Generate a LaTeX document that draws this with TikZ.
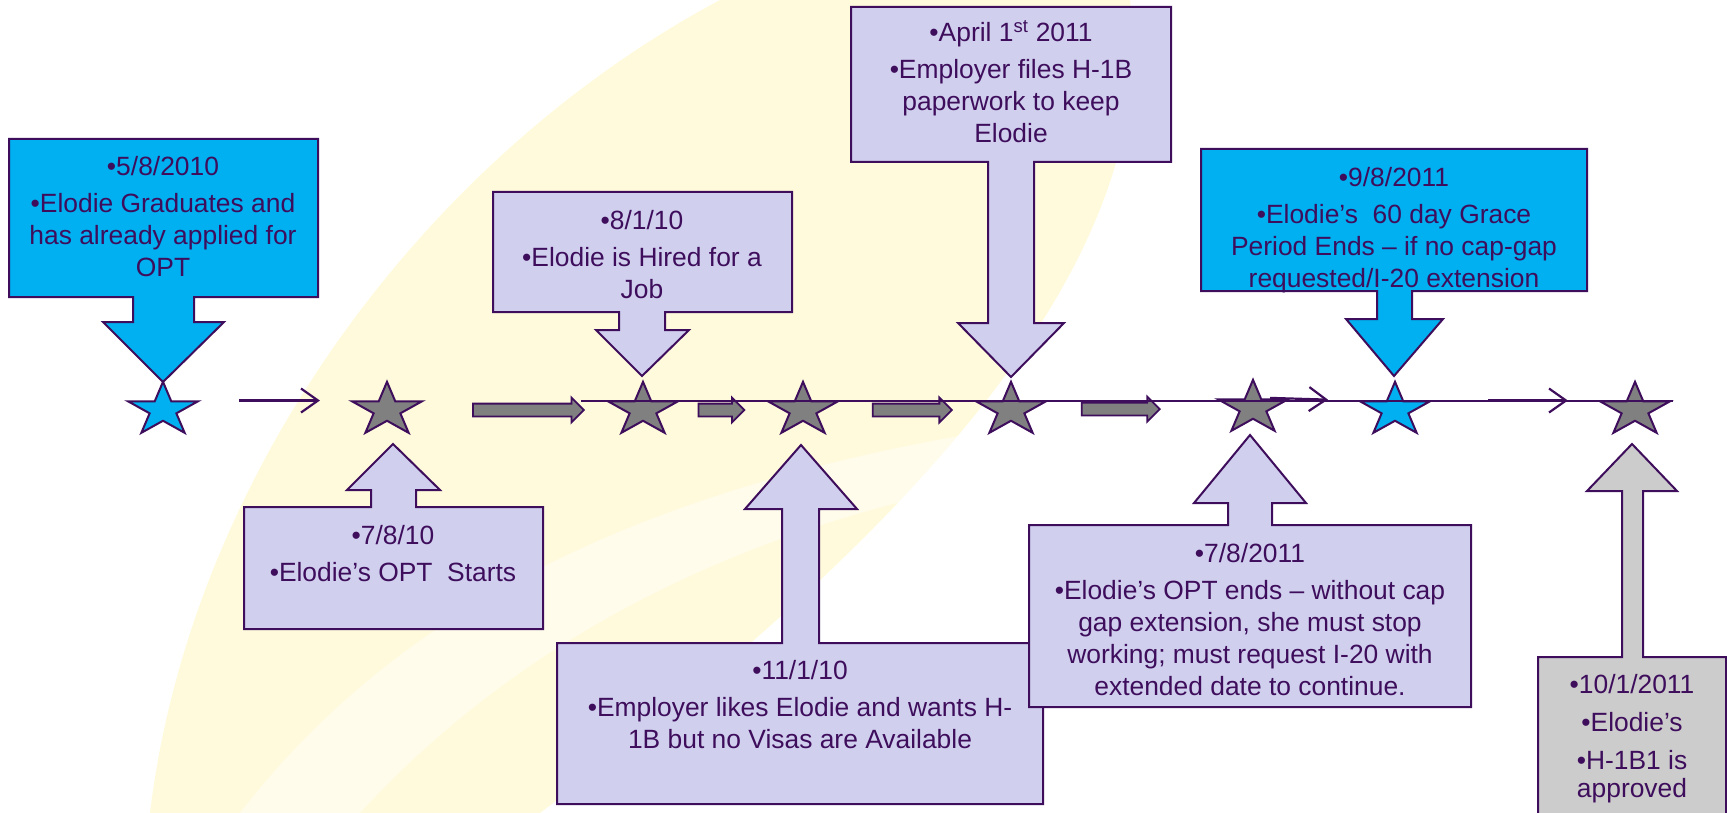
\documentclass[tikz,border=0pt]{standalone}
\usepackage{fontspec}
\setmainfont{Liberation Sans}
\usetikzlibrary{shapes.geometric,shapes.arrows,arrows.meta,calc}

\definecolor{ink}{RGB}{62,14,92}
\definecolor{skyfill}{RGB}{0,176,240}
\definecolor{lavfill}{RGB}{208,208,238}
\definecolor{starfill}{RGB}{128,128,128}
\definecolor{greyfill}{RGB}{204,204,204}
\definecolor{swoosh}{RGB}{255,250,220}

\tikzset{
  callout/.style={draw=ink, line width=2pt, line join=miter},
  txt/.style={text=ink, font=\fontsize{26.4}{32}\selectfont, align=center, inner sep=0pt, anchor=north},
  event/.style={star, star points=5, star point ratio=2.618, minimum size=73.6pt, inner sep=0pt,
    yscale=0.766, draw=ink, line width=2pt, fill=starfill},
  linkarrow/.style={draw=ink, line width=2.2pt, -{Straight Barb[length=17pt,width=24pt]}},
  tline/.style={draw=ink, line width=2pt},
  blockarrow/.style={single arrow, single arrow head extend=6pt, inner xsep=0pt, inner ysep=5.5pt,
    draw=ink, line width=1.8pt, fill=starfill}
}

\begin{document}
\begin{tikzpicture}[x=1pt, y=-1pt]

  \clip (0,0) rectangle (1727,813);

  % background swoosh
  \fill[swoosh] (150,813) .. controls (190,480) and (420,160) .. (720,0) -- (1130,0)
    .. controls (1170,300) and (820,600) .. (540,813) -- cycle;
  \fill[white, opacity=0.45] (240,813) .. controls (420,580) and (700,470) .. (1060,420)
    -- (1060,470) .. controls (720,520) and (500,660) .. (360,813) -- cycle;

  % callouts above the line
  \draw[callout, fill=skyfill] (9,139) -- (318,139) -- (318,297) -- (194,297) -- (194,322) -- (224,322)
    -- (163,382) -- (103,322) -- (133,322) -- (133,297) -- (9,297) -- cycle;
  \draw[callout, fill=lavfill] (493,192) -- (792,192) -- (792,312) -- (665,312) -- (665,330) -- (689,330)
    -- (642,376) -- (596,330) -- (619,330) -- (619,312) -- (493,312) -- cycle;
  \draw[callout, fill=lavfill] (851,7) -- (1171,7) -- (1171,162) -- (1034,162) -- (1034,323) -- (1064,323)
    -- (1011,377) -- (958,323) -- (988,323) -- (988,162) -- (851,162) -- cycle;
  \draw[callout, fill=skyfill] (1201,149) -- (1587,149) -- (1587,291) -- (1412,291) -- (1412,319) -- (1443,319)
    -- (1394,376) -- (1346,319) -- (1377,319) -- (1377,291) -- (1201,291) -- cycle;

  % callouts below the line
  \draw[callout, fill=lavfill] (244,507) -- (371,507) -- (371,490) -- (347,490) -- (393,444) -- (440,490)
    -- (416,490) -- (416,507) -- (543,507) -- (543,629) -- (244,629) -- cycle;
  \draw[callout, fill=lavfill] (557,643) -- (782,643) -- (782,509) -- (745,509) -- (801,445) -- (857,509)
    -- (819,509) -- (819,643) -- (1043,643) -- (1043,804) -- (557,804) -- cycle;
  \draw[callout, fill=lavfill] (1029,525) -- (1228,525) -- (1228,503) -- (1194,503) -- (1250,435) -- (1306,503)
    -- (1272,503) -- (1272,525) -- (1471,525) -- (1471,707) -- (1029,707) -- cycle;
  \draw[callout, fill=greyfill] (1538,657) -- (1622,657) -- (1622,491) -- (1587,491) -- (1632,444) -- (1677,491)
    -- (1643,491) -- (1643,657) -- (1726,657) -- (1726,830) -- (1538,830) -- cycle;

  % texts
  \node[txt] (t1) at (163,156) {•5/8/2010\\[5pt]•Elodie Graduates and\\has already applied for\\OPT};
  \node[txt] (t2) at (393,525) {•7/8/10\\[5pt]•Elodie’s OPT~ Starts};
  \node[txt] (t3) at (642,210) {•8/1/10\\[5pt]•Elodie is Hired for a\\Job};
  \node[txt] (t4) at (800,660) {•11/1/10\\[5pt]•Employer likes Elodie and wants H-\\1B but no Visas are Available};
  \node[txt] (t5) at (1011,20) {•April 1\textsuperscript{st} 2011\\[5pt]•Employer files H-1B\\paperwork to keep\\Elodie};
  \node[txt] (t6) at (1394,167) {•9/8/2011\\[5pt]•Elodie’s~ 60 day Grace\\Period Ends – if no cap-gap\\requested/I-20 extension};
  \node[txt] (t7) at (1250,543) {•7/8/2011\\[5pt]•Elodie’s OPT ends – without cap\\gap extension, she must stop\\working; must request I-20 with\\extended date to continue.};
  \node[txt] (t8) at (1632,674) {•10/1/2011\\[6pt]•Elodie’s\\[6pt]•H-1B1 is\\[-4pt]approved};

  % stars
  \node[event, fill=skyfill] (s1) at (163,410) {};
  \node[event] (s2) at (387,410) {};
  \node[event] (s3) at (643,410) {};
  \node[event] (s4) at (803,410) {};
  \node[event] (s5) at (1011,410) {};
  \node[event] (s6) at (1253,408) {};
  \node[event, fill=skyfill] (s7) at (1395,410) {};
  \node[event] (s8) at (1635,410) {};

  % block arrows
  \node[blockarrow, minimum height=111pt] (b23) at ($(s2)!0.54!(s3)$) {};
  \node[blockarrow, minimum height=46pt] (b34) at ($(s3)!0.47!(s4)$) {};
  \node[blockarrow, minimum height=79pt] (b45) at ($(s4)!0.51!(s5)$) {};
  \node[blockarrow, minimum height=78pt] (b56) at ($(s5)!0.44!(s6)$) {};

  % timeline
  \draw[tline] ([xshift=-24pt]s3.outer point 2) -- (s8.outer point 5);
  \draw[linkarrow, shorten <=38pt, shorten >=29pt] (s1.outer point 5) -- (s2.outer point 2);
  \draw[linkarrow, shorten <=-21pt, shorten >=29pt] (s6.outer point 5) -- (s7.outer point 2);
  \draw[linkarrow, shorten <=55pt, shorten >=29pt] (s7.outer point 5) -- (s8.outer point 2);

\end{tikzpicture}
\end{document}
